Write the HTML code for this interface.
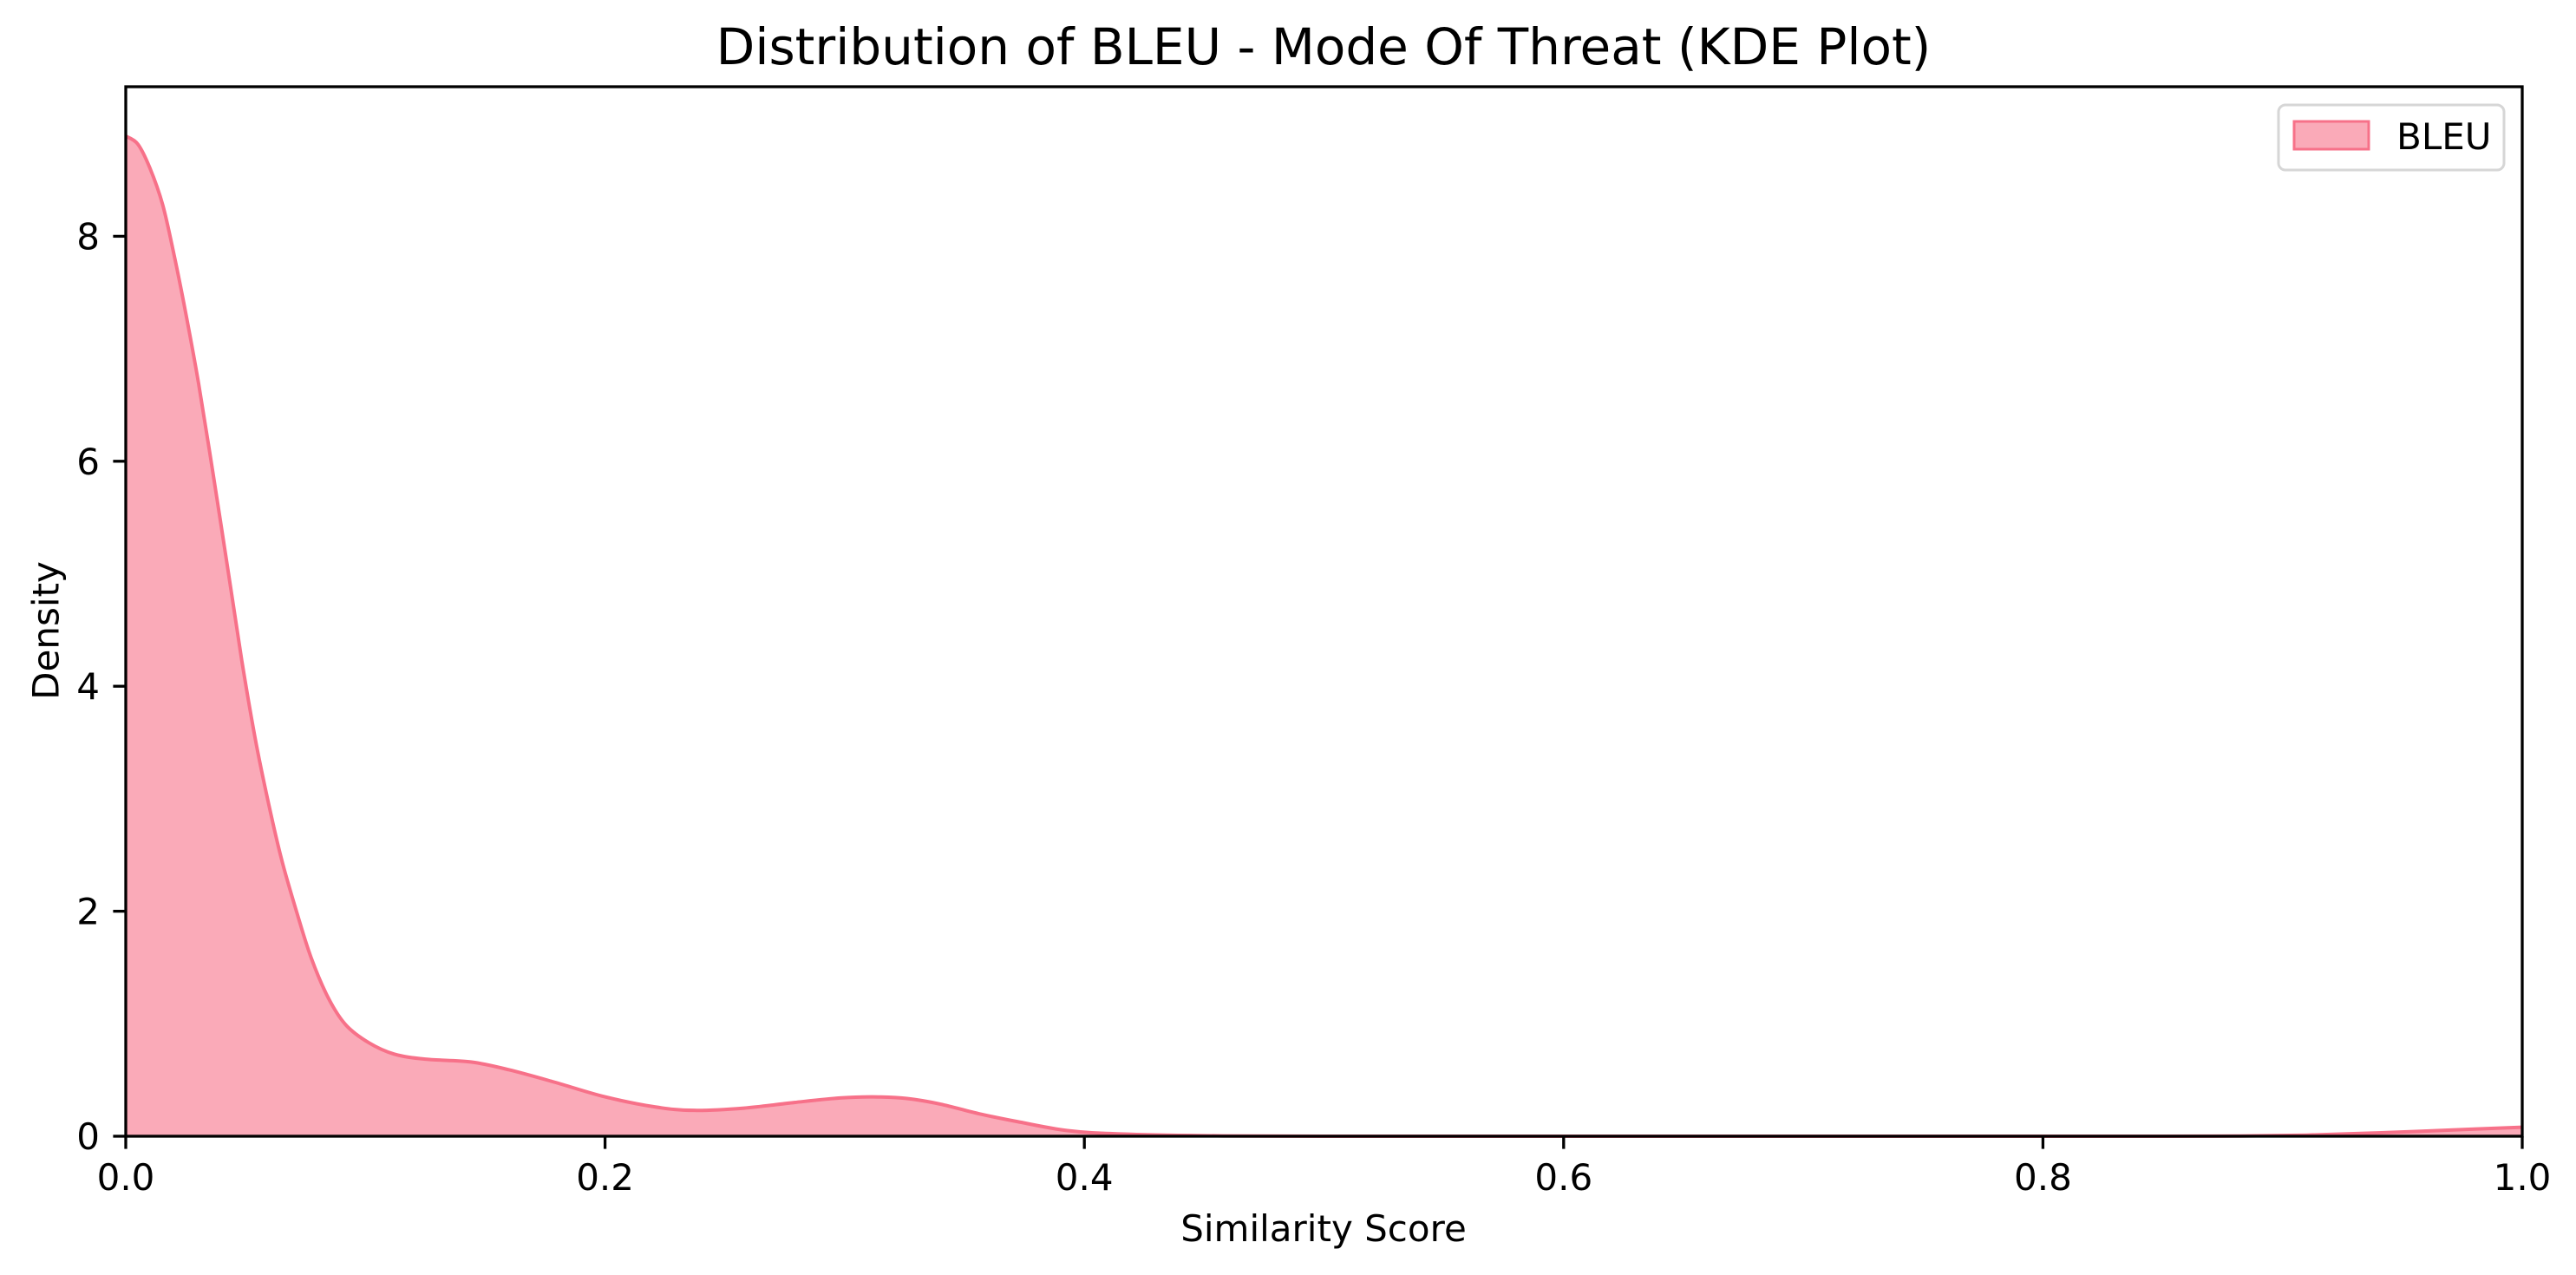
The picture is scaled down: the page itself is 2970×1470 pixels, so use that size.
<!DOCTYPE html>
<html><head><meta charset="utf-8"><style>
html,body{margin:0;padding:0;background:#fff}
svg{display:block}
text{font-family:"DejaVu Sans","Liberation Sans",sans-serif;fill:#000}
</style></head><body>
<svg id="chart" width="2970" height="1470" viewBox="0 0 2970 1470" xmlns="http://www.w3.org/2000/svg">
<text x="1526" y="74" font-size="58" text-anchor="middle">Distribution of BLEU - Mode Of Threat (KDE Plot)</text>
<g id="plot"></g>
<g id="axes"></g>
<text x="1526" y="1431" font-size="42" text-anchor="middle">Similarity Score</text>
<text transform="translate(53,727) rotate(-90)" font-size="42" text-anchor="middle" dominant-baseline="central">Density</text>
<g>
<rect x="2627" y="121" width="260" height="75" rx="8" fill="#fff" stroke="#d6d6d6" stroke-width="3"/>
<rect x="2645" y="140" width="86" height="32" fill="#faaab8" stroke="#f77189" stroke-width="3"/>
<text x="2763" y="172" font-size="42">BLEU</text>
</g>
</svg>
<script>
const xs = [0,0.005,0.010,0.0154,0.0202,0.025,0.0304,0.0365,0.0426,0.0484,0.0545,0.0607,0.0654,0.0715,0.0773,0.0845,0.0918,0.1015,0.112,0.125,0.144,0.160,0.179,0.2,0.221,0.237,0.258,0.279,0.298,0.312,0.326,0.340,0.356,0.372,0.393,0.415,0.45,0.5,0.6,0.7,0.8,0.85,0.88,0.91,0.94,0.97,1.0];
const density = [8.89,8.82,8.61,8.28,7.83,7.32,6.69,5.88,5.04,4.23,3.48,2.85,2.43,1.98,1.59,1.23,0.99,0.83,0.73,0.685,0.66,0.59,0.48,0.35,0.26,0.23,0.25,0.30,0.34,0.35,0.335,0.285,0.20,0.13,0.05,0.02,0.005,0,0,0,0,0,0.002,0.01,0.03,0.055,0.08];
const xTicks = [0,0.2,0.4,0.6,0.8,1.0];
const xTickLabels = ["0.0","0.2","0.4","0.6","0.8","1.0"];
const yTicks = [0,2,4,6,8];
const yTickLabels = ["0","2","4","6","8"];

const NS="http://www.w3.org/2000/svg";
const L=145,R=2908,T=100,B=1310,XMAX=1,YMAX=(B-T)/129.7;
function sx(v){return L+v/XMAX*(R-L);}
function sy(v){return B-v/YMAX*(B-T);}
function mk(tag,attrs,parent){const e=document.createElementNS(NS,tag);for(const k in attrs)e.setAttribute(k,attrs[k]);parent.appendChild(e);return e;}
const plot=document.getElementById('plot'), axes=document.getElementById('axes');

const pts=xs.map((x,i)=>[sx(x),sy(density[i])]);
let d="M"+pts[0][0]+","+pts[0][1];
for(let i=0;i<pts.length-1;i++){
  const p0=pts[Math.max(0,i-1)],p1=pts[i],p2=pts[i+1],p3=pts[Math.min(pts.length-1,i+2)];
  const c1=[p1[0]+(p2[0]-p0[0])/6,p1[1]+(p2[1]-p0[1])/6];
  const c2=[p2[0]-(p3[0]-p1[0])/6,p2[1]-(p3[1]-p1[1])/6];
  d+=" C"+c1[0]+","+Math.min(c1[1],B)+" "+c2[0]+","+Math.min(c2[1],B)+" "+p2[0]+","+p2[1];
}
const area=mk('path',{d:d+" L"+sx(xs[xs.length-1])+","+B+" L"+sx(xs[0])+","+B+" Z",fill:"#faaab8",stroke:"none"},plot);


const line=mk('path',{d:d,fill:"none",stroke:"#f77189","stroke-width":4},plot);



const frame=mk('rect',{x:L,y:T,width:R-L,height:B-T,fill:"none",stroke:"#000","stroke-width":3.3},axes);



xTicks.forEach((v,i)=>{
  const t=mk('line',{x1:sx(v),x2:sx(v),y1:B,y2:B+14.6,stroke:"#000","stroke-width":3.3},axes);
  
  
  const lb=mk('text',{x:sx(v),y:1372,"font-size":42,"text-anchor":"middle"},axes);
  lb.textContent=xTickLabels[i];
  
  
});
yTicks.forEach((v,i)=>{
  const t=mk('line',{x1:L-14.6,x2:L,y1:sy(v),y2:sy(v),stroke:"#000","stroke-width":3.3},axes);
  
  
  const lb=mk('text',{x:115,y:sy(v)+15,"font-size":42,"text-anchor":"end"},axes);
  lb.textContent=yTickLabels[i];
  
  
});
</script>
</body></html>
